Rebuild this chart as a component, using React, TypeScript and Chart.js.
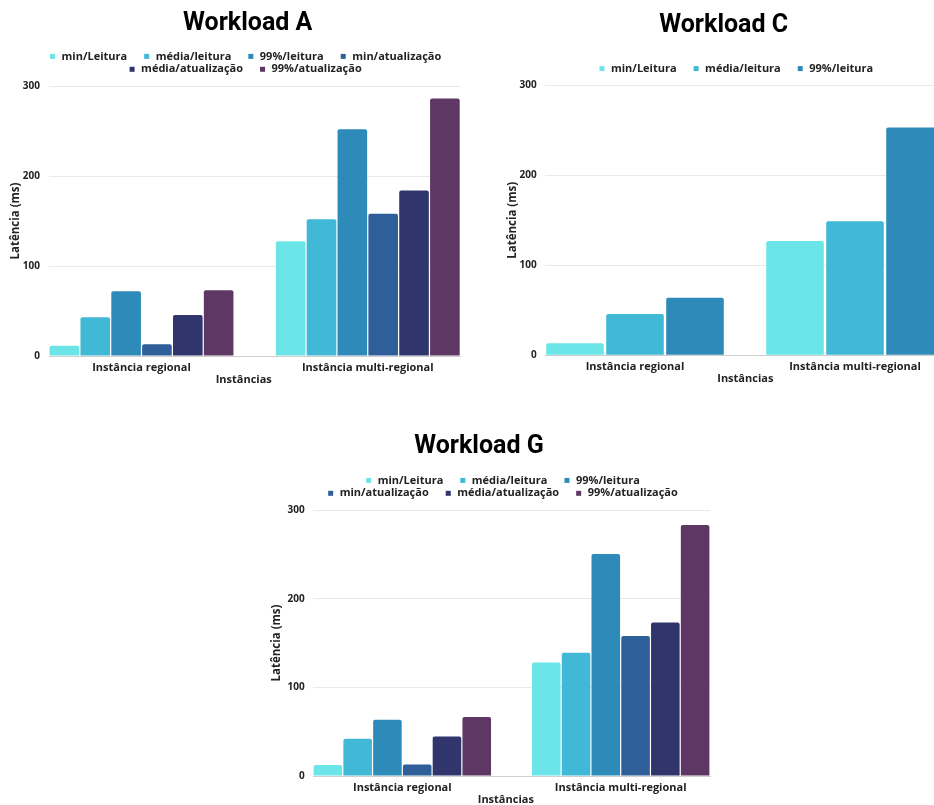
import React, { useEffect, useRef } from 'react';
import { Chart, registerables } from 'chart.js';

Chart.register(...registerables);

// Categories along the x axis
const categories = ['Instância regional', 'Instância multi-regional'];
const yTicks = [0, 100, 200, 300];

// Series names and colours (shared by all three charts)
const seriesNames = ['min/Leitura', 'média/leitura', '99%/leitura', 'min/atualização', 'média/atualização', '99%/atualização'];
const seriesColors = ['#6BE5E8', '#42B8D7', '#2E8BB9', '#2E5F99', '#30356C', '#5E3765'];

// Workload A — latency (ms), [regional, multi-regional]
const aMinLeitura = [11.5, 127.5];
const aMediaLeitura = [43, 152];
const aP99Leitura = [72, 252];
const aMinAtualizacao = [13, 158];
const aMediaAtualizacao = [45.5, 184];
const aP99Atualizacao = [73, 286];

// Workload C — read only
const cMinLeitura = [13.5, 127];
const cMediaLeitura = [46, 149];
const cP99Leitura = [64, 253];

// Workload G
const gMinLeitura = [12.5, 128];
const gMediaLeitura = [42, 139];
const gP99Leitura = [63.5, 250.5];
const gMinAtualizacao = [13, 158];
const gMediaAtualizacao = [44.5, 173];
const gP99Atualizacao = [66.5, 283];

const GROUP_FRACTION = 0.818;
const TEXT = '#222222';
const FAMILY = "'Open Sans', 'Noto Sans', sans-serif";

type ChartSpec = {
  title: string;
  titleX: number;
  titleBaseline: number;
  series: number[][];
  rows: number[];
  box: { left: number; top: number; width: number; height: number };
  pad: { left: number; right: number; top: number; bottom: number };
  yWidth: number;
  yTickPad: number;
  legendShift: number;
  xTitleShift: number;
};

const specs: ChartSpec[] = [
  {
    title: 'Workload A',
    titleX: 247.7,
    titleBaseline: 30,
    series: [aMinLeitura, aMediaLeitura, aP99Leitura, aMinAtualizacao, aMediaAtualizacao, aP99Atualizacao],
    rows: [4, 2],
    box: { left: 0, top: 0, width: 491, height: 392 },
    pad: { left: 9, right: 30.7, top: 86, bottom: 6 },
    yWidth: 40,
    yTickPad: 9,
    legendShift: -9,
    xTitleShift: -10.9,
  },
  {
    title: 'Workload C',
    titleX: 235.7,
    titleBaseline: 32.3,
    series: [cMinLeitura, cMediaLeitura, cP99Leitura],
    rows: [3],
    box: { left: 488, top: 0, width: 472, height: 392 },
    pad: { left: 17.7, right: 15, top: 85.3, bottom: 6.7 },
    yWidth: 39.3,
    yTickPad: 8.3,
    legendShift: -8.7,
    xTitleShift: 0.3,
  },
  {
    title: 'Workload G',
    titleX: 237,
    titleBaseline: 53.3,
    series: [gMinLeitura, gMediaLeitura, gP99Leitura, gMinAtualizacao, gMediaAtualizacao, gP99Atualizacao],
    rows: [3, 3],
    box: { left: 242, top: 400, width: 473, height: 410 },
    pad: { left: 28.1, right: 5, top: 110, bottom: 4 },
    yWidth: 42.9,
    yTickPad: 8.3,
    legendShift: -8.5,
    xTitleShift: -5.7,
  },
];

// Draws the chart title, the compact legend above the plot and the x-axis title below it.
const sheetDecor = {
  id: 'sheetDecor',
  afterDraw(chart: any, _args: any, opts: any) {
    const { ctx, chartArea } = chart;
    const mid = (chartArea.left + chartArea.right) / 2;
    ctx.save();

    ctx.font = `bold 25px Roboto, ${FAMILY}`;
    ctx.textAlign = 'center';
    ctx.textBaseline = 'alphabetic';
    ctx.fillStyle = '#000000';
    ctx.fillText(opts.title, opts.titleX, opts.titleBaseline);

    ctx.font = `bold 11px ${FAMILY}`;
    ctx.textBaseline = 'middle';
    ctx.textAlign = 'left';
    const datasets = chart.data.datasets;
    const rows: number[] = opts.rows;
    const lastY = chartArea.top - 16.7;
    const box = 5;
    const textGap = 6.5;
    const itemGap = 17;
    let idx = 0;
    rows.forEach((count, r) => {
      const y = lastY - (rows.length - 1 - r) * 12.9;
      const items = datasets.slice(idx, idx + count);
      idx += count;
      const widths = items.map((d: any) => box + textGap + ctx.measureText(d.label).width);
      const total = widths.reduce((a: number, b: number) => a + b, 0) + itemGap * (items.length - 1);
      let x = mid + opts.legendShift - total / 2;
      items.forEach((d: any, i: number) => {
        ctx.fillStyle = d.backgroundColor;
        ctx.fillRect(x, y - box / 2, box, box);
        ctx.fillStyle = TEXT;
        ctx.fillText(d.label, x + box + textGap, y);
        x += widths[i] + itemGap;
      });
    });

    ctx.font = `bold 11px ${FAMILY}`;
    ctx.textAlign = 'center';
    ctx.fillStyle = TEXT;
    ctx.fillText(opts.xTitle, mid + opts.xTitleShift, chartArea.bottom + 23.5);
    ctx.restore();
  },
};

function BarPanel({ spec }: { spec: ChartSpec }) {
  const ref = useRef<HTMLCanvasElement | null>(null);

  useEffect(() => {
    if (!ref.current) return;
    const datasets = spec.series.map((values, s) => ({
      label: seriesNames[s],
      data: values.map((v, i) => ({ x: i, y: v })),
      backgroundColor: seriesColors[s],
      borderWidth: 0,
      borderRadius: 2,
      borderSkipped: 'start' as const,
      categoryPercentage: GROUP_FRACTION,
      barPercentage: 0.96,
    }));

    const chart = new Chart(ref.current, {
      type: 'bar',
      data: { datasets },
      plugins: [sheetDecor],
      options: {
        animation: false,
        responsive: false,
        events: [],
        layout: { padding: spec.pad },
        scales: {
          x: {
            type: 'linear',
            min: -GROUP_FRACTION / 2,
            max: 1 + GROUP_FRACTION / 2,
            offset: false,
            afterBuildTicks: (s: any) => {
              s.ticks = categories.map((_, i) => ({ value: i }));
            },
            afterFit: (s: any) => {
              s.height = 30;
            },
            ticks: {
              callback: (v: any) => categories[v] ?? '',
              autoSkip: false,
              maxRotation: 0,
              padding: 5,
              color: TEXT,
              font: { family: FAMILY, weight: 'bold', size: 11 },
            },
            grid: { display: false, drawTicks: false },
            border: { display: true, color: '#cfcfcf' },
          },
          y: {
            min: yTicks[0],
            max: yTicks[yTicks.length - 1],
            afterBuildTicks: (s: any) => {
              s.ticks = yTicks.map((v) => ({ value: v }));
            },
            afterFit: (s: any) => {
              s.width = spec.yWidth;
            },
            ticks: {
              padding: spec.yTickPad,
              color: TEXT,
              font: { family: FAMILY, weight: 'bold', size: 10 },
            },
            grid: { color: '#e9e9e9', drawTicks: false },
            border: { display: false },
            title: {
              display: true,
              text: 'Latência (ms)',
              color: TEXT,
              padding: 0,
              font: { family: FAMILY, weight: 'bold', size: 11.5 },
            },
          },
        },
        plugins: {
          legend: { display: false },
          tooltip: { enabled: false },
          title: { display: false },
          sheetDecor: {
            title: spec.title,
            titleX: spec.titleX,
            titleBaseline: spec.titleBaseline,
            rows: spec.rows,
            legendShift: spec.legendShift,
            xTitle: 'Instâncias',
            xTitleShift: spec.xTitleShift,
          },
        } as any,
      },
    } as any);
    return () => chart.destroy();
  }, [spec]);

  const { left, top, width, height } = spec.box;
  return (
    <canvas
      ref={ref}
      width={width}
      height={height}
      style={{ position: 'absolute', left, top, width, height }}
    />
  );
}

export default function App() {
  return (
    <div
      style={{
        position: 'fixed',
        left: 0,
        top: 0,
        width: 934,
        height: 805,
        overflow: 'hidden',
        background: '#ffffff',
      }}
    >
      {specs.map((s) => (
        <BarPanel key={s.title} spec={s} />
      ))}
    </div>
  );
}
